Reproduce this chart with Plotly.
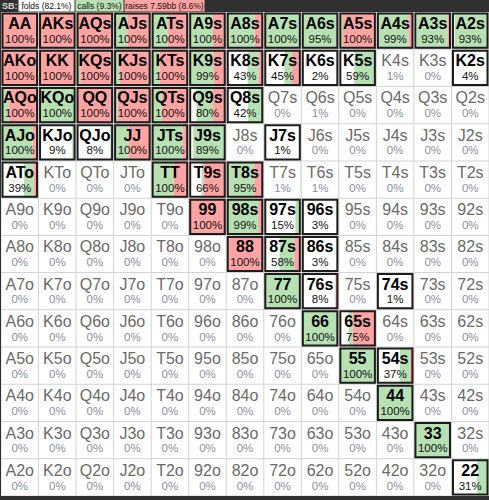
import plotly.graph_objects as go

ranks = ["A", "K", "Q", "J", "T", "9", "8", "7", "6", "5", "4", "3", "2"]

# percent of each hand played as a call (green) and as a raise (red); fold = rest
call_pct = [
    [0, 0, 3, 36, 45, 65, 77, 100, 90, 10, 86, 83, 88],
    [0, 0, 10, 15, 22, 65, 30, 21, 2, 59, 1, 0, 4],
    [20, 100, 0, 10, 27, 45, 42, 0, 1, 0, 0, 0, 0],
    [85, 9, 8, 40, 85, 89, 0, 1, 0, 0, 0, 0, 0],
    [27, 0, 0, 0, 60, 5, 70, 1, 1, 0, 0, 0, 0],
    [0, 0, 0, 0, 0, 0, 85, 15, 3, 0, 0, 0, 0],
    [0, 0, 0, 0, 0, 0, 5, 40, 3, 0, 0, 0, 0],
    [0, 0, 0, 0, 0, 0, 0, 100, 0, 0, 0, 0, 0],
    [0, 0, 0, 0, 0, 0, 0, 0, 100, 12, 0, 0, 0],
    [0, 0, 0, 0, 0, 0, 0, 0, 0, 100, 28, 0, 0],
    [0, 0, 0, 0, 0, 0, 0, 0, 0, 0, 100, 0, 0],
    [0, 0, 0, 0, 0, 0, 0, 0, 0, 0, 0, 100, 0],
    [0, 0, 0, 0, 0, 0, 0, 0, 0, 0, 0, 0, 31],
]
raise_pct = [
    [100, 100, 97, 64, 55, 35, 23, 0, 5, 90, 13, 10, 5],
    [100, 100, 90, 85, 78, 34, 13, 24, 0, 0, 0, 0, 0],
    [80, 0, 100, 90, 73, 35, 0, 0, 0, 0, 0, 0, 0],
    [15, 0, 0, 60, 15, 0, 0, 0, 0, 0, 0, 0, 0],
    [12, 0, 0, 0, 40, 61, 25, 0, 0, 0, 0, 0, 0],
    [0, 0, 0, 0, 0, 100, 14, 0, 0, 0, 0, 0, 0],
    [0, 0, 0, 0, 0, 0, 95, 18, 0, 0, 0, 0, 0],
    [0, 0, 0, 0, 0, 0, 0, 0, 8, 0, 1, 0, 0],
    [0, 0, 0, 0, 0, 0, 0, 0, 0, 63, 0, 0, 0],
    [0, 0, 0, 0, 0, 0, 0, 0, 0, 0, 9, 0, 0],
    [0, 0, 0, 0, 0, 0, 0, 0, 0, 0, 0, 0, 0],
    [0, 0, 0, 0, 0, 0, 0, 0, 0, 0, 0, 0, 0],
    [0, 0, 0, 0, 0, 0, 0, 0, 0, 0, 0, 0, 0],
]
# hands with a small frequency that are not outlined
unmarked_hands = ["K4s", "Q6s", "T7s", "T6s"]

header_labels = ["folds (82.1%)", "calls (9.3%)", "raises 7.59bb (8.6%)"]
position_label = "SB:"

GREEN = "#b7e0b3"
RED = "#ffa3a3"
DARK = "#303030"

W, H = 489, 500
ML, MR, MT, MB = 1, 0, 12, 4
pw = W - ML - MR
ph = H - MT - MB
n = len(ranks)
px_x = n / pw
px_y = n / ph


def hand_name(r, c):
    if r == c:
        return ranks[r] + ranks[c]
    if r < c:
        return ranks[r] + ranks[c] + "s"
    return ranks[c] + ranks[r] + "o"


shapes = []
lab_x, lab_y, lab_t, lab_c = [], [], [], []
pct_x, pct_y, pct_t, pct_c = [], [], [], []

for r in range(n):
    for c in range(n):
        name = hand_name(r, c)
        cp = call_pct[r][c]
        rp = raise_pct[r][c]
        played = cp + rp
        x0 = c + 0.5 * px_x
        x1 = c + 1 - 0.5 * px_x
        y0 = r + 0.5 * px_y
        y1 = r + 1 - 0.5 * px_y
        shapes.append(dict(type="rect", x0=x0, x1=x1, y0=y0, y1=y1,
                           fillcolor="white", line=dict(width=0), layer="below"))
        wid = x1 - x0
        fold_end = x0 + wid * (100 - played) / 100
        call_end = fold_end + wid * cp / 100
        if cp > 0:
            shapes.append(dict(type="rect", x0=fold_end, x1=call_end, y0=y0, y1=y1,
                               fillcolor=GREEN, line=dict(width=0), layer="below"))
        if rp > 0:
            shapes.append(dict(type="rect", x0=call_end, x1=x1, y0=y0, y1=y1,
                               fillcolor=RED, line=dict(width=0), layer="below"))
        active = played > 0 and name not in unmarked_hands
        if active:
            shapes.append(dict(type="rect",
                               x0=c + 1.5 * px_x, x1=c + 1 - 1.5 * px_x,
                               y0=r + 1.5 * px_y, y1=r + 1 - 1.5 * px_y,
                               fillcolor="rgba(0,0,0,0)",
                               line=dict(width=2, color="#1c1c1c"), layer="below"))
        lab_x.append(c + 0.5)
        lab_y.append(r + 0.35)
        pct_x.append(c + 0.5)
        pct_y.append(r + 0.75)
        if active:
            lab_t.append("<b>" + name + "</b>")
            lab_c.append("#000000")
            pct_c.append("#111111")
        else:
            lab_t.append(name)
            lab_c.append("#6a6a6a")
            pct_c.append("#8a90a0")
        pct_t.append(f"{round(played)}%")

fig = go.Figure()
fig.add_trace(go.Scatter(x=lab_x, y=lab_y, mode="text", text=lab_t,
                         textfont=dict(family="Liberation Sans, Arial", size=16, color=lab_c),
                         hoverinfo="skip", showlegend=False))
fig.add_trace(go.Scatter(x=pct_x, y=pct_y, mode="text", text=pct_t,
                         textfont=dict(family="Liberation Sans, Arial", size=11.5, color=pct_c),
                         hoverinfo="skip", showlegend=False))


def paper_x(px):
    return (px - ML) / pw


hy = 1 + (MT - 6) / ph
annotations = [
    dict(text="<b>" + position_label + "</b>", x=paper_x(1), y=hy, xref="paper", yref="paper",
         xanchor="left", yanchor="middle", showarrow=False, borderpad=0,
         font=dict(family="Liberation Sans, Arial", size=9, color="#d8d8d8")),
]
box_specs = [(18, 55, "white"), (75, 47, GREEN), (124, 79, RED)]
for (bx, bw, bc), txt in zip(box_specs, header_labels):
    annotations.append(dict(text=txt, x=paper_x(bx), y=hy, xref="paper", yref="paper",
                            xanchor="left", yanchor="middle", showarrow=False,
                            width=bw, height=11, bgcolor=bc, borderpad=0, align="center",
                            font=dict(family="Liberation Sans, Arial", size=8.5, color="#111111")))

fig.update_layout(
    width=W, height=H,
    margin=dict(l=ML, r=MR, t=MT, b=MB, pad=0),
    paper_bgcolor=DARK,
    plot_bgcolor="#d3d3d3",
    shapes=shapes,
    annotations=annotations,
    xaxis=dict(range=[0, n], visible=False, fixedrange=True),
    yaxis=dict(range=[n, 0], visible=False, fixedrange=True),
    showlegend=False,
)

fig.write_html("out.html", config={"displayModeBar": False},
               post_script="document.body.style.margin='0';document.body.style.background='%s';" % DARK)
